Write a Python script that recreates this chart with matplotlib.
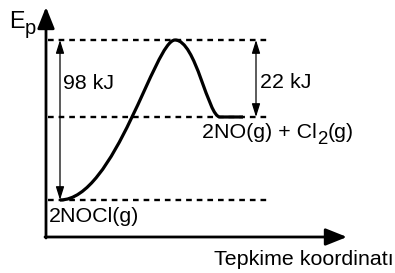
import matplotlib
matplotlib.use("Agg")
import matplotlib.pyplot as plt
from matplotlib.patches import FancyArrowPatch, PathPatch, ArrowStyle
from matplotlib.path import Path

plt.rcParams['font.family'] = ['Liberation Sans', 'DejaVu Sans']

# Diagram coordinates (pixel-like, y grows downward)
levels = {"reactant": 200, "ts": 40, "product": 117}
energy_labels = ["98 kJ", "22 kJ"]
reactant_label = [("2NOCl(g)", 0)]
product_label = [("2NO(g) + Cl", 0), ("2", 1), ("(g)", 0)]
ylabel_parts = [("E", 0), ("p", 1)]
xlabel = "Tepkime koordinatı"

# Reaction path: cubic Bezier control points
curve_x = [60, 115, 155, 175, 196, 208, 220, 243]
curve_y = [200, 200, 40, 40, 40, 117, 117, 117]

W, H = 395, 273
fig = plt.figure(figsize=(W / 100, H / 100), dpi=100)
ax = fig.add_axes([0, 0, 1, 1])
ax.set_xlim(0, W)
ax.set_ylim(H, 0)
ax.axis('off')

fs = 15.4
black = 'black'
renderer = fig.canvas.get_renderer()


def rich_text(x, y, parts, size=fs, sub_scale=0.87, sub_drop=5.5):
    cx = x
    for s, is_sub in parts:
        t = ax.text(cx, y + (sub_drop if is_sub else 0), s,
                    fontsize=size * (sub_scale if is_sub else 1.0),
                    va='baseline', ha='left')
        bb = t.get_window_extent(renderer)
        cx += bb.width + 0.5


# Axes arrows
ax_style = ArrowStyle('-|>', head_length=0.65, head_width=0.26)
ax.add_patch(FancyArrowPatch((46, 238), (46, 7), arrowstyle=ax_style,
                             mutation_scale=20, lw=2.0, color=black,
                             shrinkA=0, shrinkB=0))
ax.add_patch(FancyArrowPatch((45, 237), (347, 237), arrowstyle=ax_style,
                             mutation_scale=20, lw=2.0, color=black,
                             shrinkA=0, shrinkB=0))

# Dashed level lines
dash = (0, (2.4, 2.1))
for key in ("ts", "product", "reactant"):
    ax.plot([48, 268], [levels[key]] * 2, color=black, lw=1.7, linestyle=dash)

# Reaction curve
verts = list(zip(curve_x, curve_y))
codes = [Path.MOVETO, Path.CURVE4, Path.CURVE4, Path.CURVE4,
         Path.CURVE4, Path.CURVE4, Path.CURVE4, Path.LINETO]
ax.add_patch(PathPatch(Path(verts, codes), fill=False, lw=2.3,
                       edgecolor=black, capstyle='butt', joinstyle='round'))

# Double-headed energy arrows
dstyle = ArrowStyle('<|-|>', head_length=0.8, head_width=0.25)
ax.add_patch(FancyArrowPatch((60, levels["ts"]), (60, levels["reactant"]),
                             arrowstyle=dstyle, mutation_scale=10, lw=0.9,
                             color=black, shrinkA=0, shrinkB=0))
ax.add_patch(FancyArrowPatch((256, levels["ts"]), (256, levels["product"]),
                             arrowstyle=dstyle, mutation_scale=10, lw=0.9,
                             color=black, shrinkA=0, shrinkB=0))

# Texts
ax.text(63, 89, energy_labels[0], fontsize=fs, va='baseline', ha='left')
ax.text(260, 88, energy_labels[1], fontsize=fs, va='baseline', ha='left')
rich_text(49, 222, reactant_label)
rich_text(202, 138, product_label)
rich_text(9, 28, ylabel_parts, size=16.8, sub_scale=0.87, sub_drop=6)
ax.text(214, 265, xlabel, fontsize=fs, va='baseline', ha='left')

fig.savefig('out.png', dpi=100, facecolor='white')
